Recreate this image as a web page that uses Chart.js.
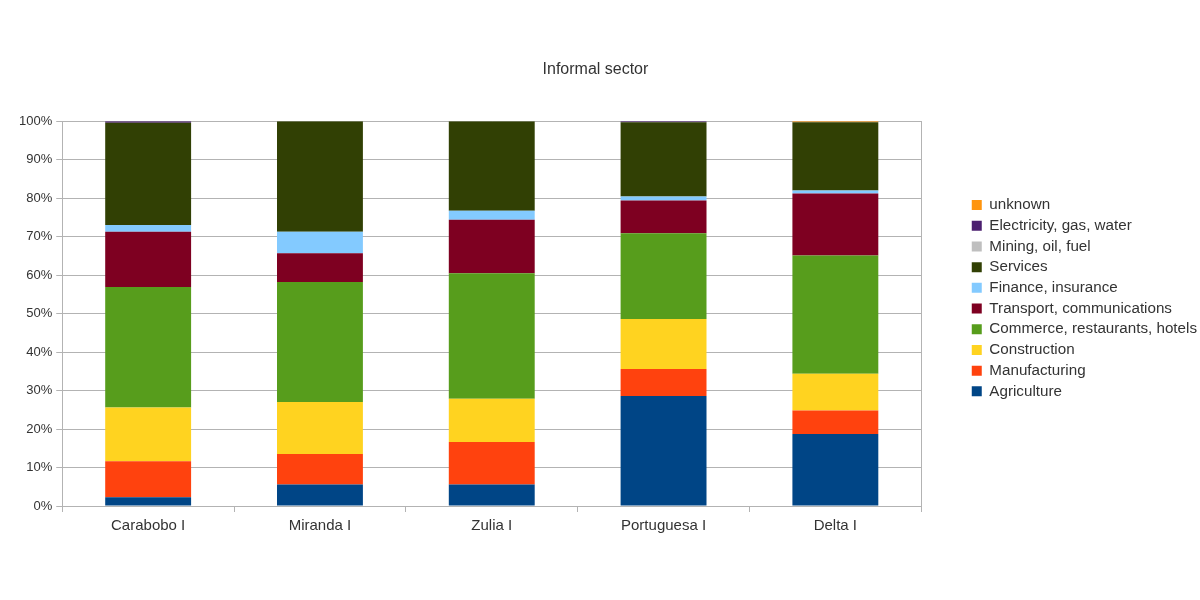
<!DOCTYPE html>
<html>
<head>
<meta charset="utf-8">
<script src="https://cdn.jsdelivr.net/npm/chart.js@4/dist/chart.umd.min.js"></script>
<style>
    html, body { margin: 0; padding: 0; background: #fff; }
    #wrap { width: 1200px; height: 600px; }
</style>
</head>
<body>
<div id="wrap"><canvas id="informal"></canvas></div>
<script>
// values in percent of each region
const regions = ["Carabobo I", "Miranda I", "Zulia I", "Portuguesa I", "Delta I"];
const agriculture = [2.3, 5.6, 5.6, 28.6, 18.7];
const manufacturing = [9.3, 7.9, 11.0, 7.0, 6.1];
const construction = [14.0, 13.5, 11.3, 13.0, 9.6];
const commerce = [31.3, 31.2, 32.6, 22.3, 30.7];
const transport = [14.4, 7.5, 13.9, 8.5, 16.1];
const finance = [1.7, 5.6, 2.3, 1.0, 0.8];
const services = [26.6, 28.7, 23.3, 19.3, 17.7];
const mining = [0, 0, 0, 0, 0];
const electricity = [0.4, 0, 0, 0.3, 0];
const unknown = [0, 0, 0, 0, 0.3];

const gridGrey = "#b3b3b3";
const textGrey = "#333333";
Chart.defaults.font.family = "'Liberation Sans', Arial, sans-serif";
Chart.defaults.color = textGrey;

function series(label, data, color) {
    return {
        label: label,
        data: data,
        backgroundColor: color,
        borderWidth: 0,
        categoryPercentage: 1,
        barPercentage: 0.5,
    };
}

const ctx = document.getElementById("informal").getContext("2d");
const informal = new Chart(ctx, {
    type: "bar",
    data: {
        labels: regions,
        datasets: [
            series("Agriculture", agriculture, "#004586"),
            series("Manufacturing", manufacturing, "#ff420e"),
            series("Construction", construction, "#ffd320"),
            series("Commerce, restaurants, hotels", commerce, "#579d1c"),
            series("Transport, communications", transport, "#7e0021"),
            series("Finance, insurance", finance, "#83caff"),
            series("Services", services, "#314004"),
            series("Mining, oil, fuel", mining, "#bfbfbf"),
            series("Electricity, gas, water", electricity, "#4b1f6f"),
            series("unknown", unknown, "#ff950e"),
        ],
    },
    options: {
        responsive: true,
        maintainAspectRatio: false,
        animation: false,
        layout: {
            padding: { left: 15, right: -7, top: 0, bottom: 60 },
        },
        scales: {
            x: {
                stacked: true,
                grid: {
                    drawOnChartArea: false,
                    color: gridGrey,
                    tickLength: 6,
                },
                border: { color: gridGrey },
                ticks: {
                    color: textGrey,
                    font: { size: 15 },
                    padding: 5,
                },
            },
            y: {
                stacked: true,
                min: 0,
                max: 100,
                grid: {
                    color: gridGrey,
                    tickLength: 6,
                },
                border: { color: gridGrey },
                ticks: {
                    stepSize: 10,
                    color: textGrey,
                    font: { size: 13 },
                    padding: 4,
                    callback: (v) => v + "%",
                },
            },
            // only there for the right frame line and the gap before the legend
            yRight: {
                position: "right",
                min: 0,
                max: 100,
                grid: { drawOnChartArea: false, drawTicks: false },
                border: { color: gridGrey },
                ticks: { display: false },
                afterFit: (scale) => { scale.width = 45; },
            },
        },
        plugins: {
            title: {
                display: true,
                // trailing spaces pull the centred title a bit left, like the original
                text: "Informal sector       ",
                color: textGrey,
                font: { size: 16, weight: "normal" },
                padding: { top: 60, bottom: 42 },
            },
            legend: {
                position: "right",
                reverse: true,
                maxWidth: 400,
                title: {
                    display: true,
                    text: " ",
                    font: { size: 12 },
                    padding: { top: 42, bottom: 0 },
                },
                labels: {
                    boxWidth: 10,
                    boxHeight: 10,
                    padding: 5.5,
                    color: textGrey,
                    font: { size: 15.2 },
                },
            },
            tooltip: { enabled: false },
        },
    },
});
</script>
</body>
</html>
